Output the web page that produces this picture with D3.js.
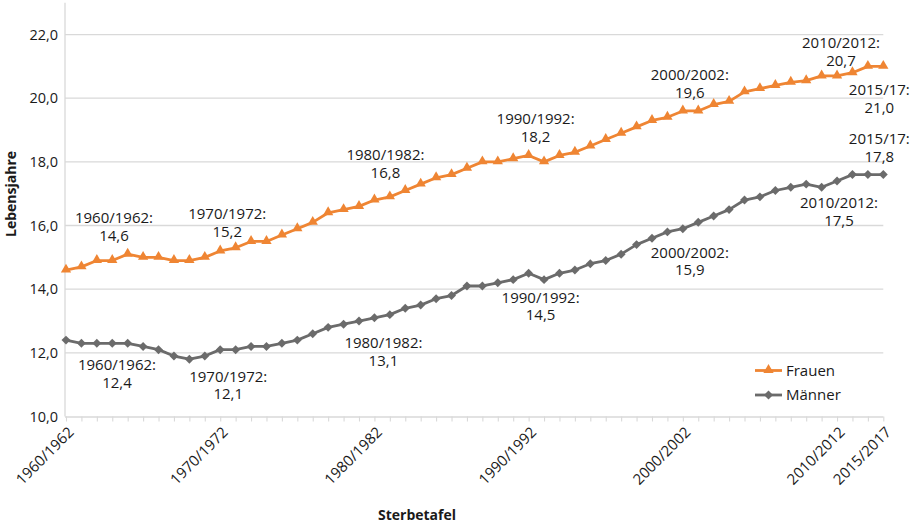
<!DOCTYPE html>
<html>
<head>
<meta charset="utf-8">
<script src="https://cdn.jsdelivr.net/npm/d3@7"></script>
<style>
  body { margin: 0; background: #fff; }
  svg { display: block; font-family: "Open Sans", "Noto Sans", sans-serif; }
</style>
</head>
<body>
<svg id="chart" width="916" height="528"></svg>
<script>
const categories = [
  "1960/1962","1961/1963","1962/1964","1963/1965","1964/1966","1965/1967","1966/1968","1967/1969","1968/1970","1969/1971",
  "1970/1972","1971/1973","1972/1974","1973/1975","1974/1976","1975/1977","1976/1978","1977/1979","1978/1980","1979/1981",
  "1980/1982","1981/1983","1982/1984","1983/1985","1984/1986","1985/1987","1986/1988","1987/1989","1988/1990","1989/1991",
  "1990/1992","1991/1993","1992/1994","1993/1995","1994/1996","1995/1997","1996/1998","1997/1999","1998/2000","1999/2001",
  "2000/2002","2001/2003","2002/2004","2003/2005","2004/2006","2005/2007","2006/2008","2007/2009","2008/2010","2009/2011",
  "2010/2012","2011/2013","2012/2014","2015/2017"
];
const frauen = [
  14.6,14.7,14.9,14.9,15.1,15.0,15.0,14.9,14.9,15.0,
  15.2,15.3,15.5,15.5,15.7,15.9,16.1,16.4,16.5,16.6,
  16.8,16.9,17.1,17.3,17.5,17.6,17.8,18.0,18.0,18.1,
  18.2,18.0,18.2,18.3,18.5,18.7,18.9,19.1,19.3,19.4,
  19.6,19.6,19.8,19.9,20.2,20.3,20.4,20.5,20.55,20.7,
  20.7,20.8,21.0,21.0
];
const maenner = [
  12.4,12.3,12.3,12.3,12.3,12.2,12.1,11.9,11.8,11.9,
  12.1,12.1,12.2,12.2,12.3,12.4,12.6,12.8,12.9,13.0,
  13.1,13.2,13.4,13.5,13.7,13.8,14.1,14.1,14.2,14.3,
  14.5,14.3,14.5,14.6,14.8,14.9,15.1,15.4,15.6,15.8,
  15.9,16.1,16.3,16.5,16.8,16.9,17.1,17.2,17.3,17.2,
  17.4,17.6,17.6,17.6
];
const xTickLabels = ["1960/1962","1970/1972","1980/1982","1990/1992","2000/2002","2010/2012","2015/2017"];
const yTicks = [10,12,14,16,18,20,22];
const seriesNames = ["Frauen","Männer"];

// annotations: [category, line1, line2]
const annotFrauen = [
  ["1960/1962","1960/1962:","14,6"],
  ["1970/1972","1970/1972:","15,2"],
  ["1980/1982","1980/1982:","16,8"],
  ["1990/1992","1990/1992:","18,2"],
  ["2000/2002","2000/2002:","19,6"],
  ["2010/2012","2010/2012:","20,7"],
  ["2015/2017","2015/17:","21,0"]
];
const annotMaenner = [
  ["1960/1962","1960/1962:","12,4"],
  ["1970/1972","1970/1972:","12,1"],
  ["1980/1982","1980/1982:","13,1"],
  ["1990/1992","1990/1992:","14,5"],
  ["2000/2002","2000/2002:","15,9"],
  ["2010/2012","2010/2012:","17,5"],
  ["2015/2017","2015/17:","17,8"]
];
// label offsets (layout, px) relative to data point: [dx, dy of first line center]
const offFrauen = [[48,-52],[7,-37],[11,-45],[7,-36.5],[7,-36],[4,-33],[-4,23.6]];
const offMaenner = [[51,25],[8,27],[9,25],[12,24],[7,24],[2,22],[-4,-35.6]];

const ORANGE = "#EF8533";
const GRAY = "#6B6B6B";
const GRID = "#D9D9D9";
const TEXT = "#1a1a1a";
const FS = 15;

const svg = d3.select("#chart");
const x = d3.scalePoint().domain(categories).range([66, 883.3]);
const y = d3.scaleLinear().domain([10, 23]).range([416.5, 2.7]);
const x0 = 65, x1 = 883.3;

// gridlines
svg.append("g").selectAll("line").data(yTicks.filter(d => d > 10)).join("line")
  .attr("x1", x0).attr("x2", x1)
  .attr("y1", d => y(d)).attr("y2", d => y(d))
  .attr("stroke", GRID).attr("stroke-width", 1.3);

// y axis line
svg.append("line").attr("x1", x0).attr("x2", x0).attr("y1", y(23)).attr("y2", y(10))
  .attr("stroke", GRID).attr("stroke-width", 1.3);

// y tick labels
svg.append("g").selectAll("text").data(yTicks).join("text")
  .attr("x", 58).attr("y", d => y(d)).attr("dy", "0.35em")
  .attr("text-anchor", "end").attr("font-size", 14.5).attr("fill", TEXT)
  .text(d => d3.format(".1f")(d).replace(".", ","));

// x axis
const xAxis = d3.axisBottom(x).tickSize(5).tickFormat("");
const gx = svg.append("g").attr("transform", `translate(0,${y(10)})`).call(xAxis);
gx.select(".domain").attr("stroke", GRID).attr("stroke-width", 1.3).attr("d", `M${x0},0.5H${x1}`);
gx.selectAll(".tick line").attr("stroke", GRID).attr("stroke-width", 1.1);

// x tick labels rotated
svg.append("g").selectAll("text").data(xTickLabels).join("text")
  .attr("transform", d => `translate(${x(d) + 5},${y(10) + 13}) rotate(-45)`)
  .attr("text-anchor", "end").attr("dy", "0.35em")
  .attr("font-size", FS).attr("fill", TEXT)
  .text(d => d);

// axis titles
svg.append("text").attr("transform", `translate(16,194) rotate(-90)`)
  .attr("text-anchor", "middle").attr("font-size", 14).attr("font-weight", "bold").attr("fill", TEXT)
  .text("Lebensjahre");
svg.append("text").attr("x", 417).attr("y", 520)
  .attr("text-anchor", "middle").attr("font-size", 14).attr("font-weight", "bold").attr("fill", TEXT)
  .text("Sterbetafel");

// lines
const line = d3.line().x(d => x(d[0])).y(d => y(d[1]));
const triangle = d3.symbol().type(d3.symbolTriangle).size(46);
const diamond = d3.symbol().type(d3.symbolSquare).size(40);

const fData = categories.map((c, i) => [c, frauen[i]]);
const mData = categories.map((c, i) => [c, maenner[i]]);

svg.append("path").datum(mData).attr("d", line)
  .attr("fill", "none").attr("stroke", GRAY).attr("stroke-width", 2.8).attr("stroke-linejoin", "round");
svg.append("g").selectAll("path").data(mData).join("path")
  .attr("d", diamond)
  .attr("transform", d => `translate(${x(d[0])},${y(d[1])}) rotate(45)`)
  .attr("fill", GRAY);

svg.append("path").datum(fData).attr("d", line)
  .attr("fill", "none").attr("stroke", ORANGE).attr("stroke-width", 2.8).attr("stroke-linejoin", "round");
svg.append("g").selectAll("path").data(fData).join("path")
  .attr("d", triangle)
  .attr("transform", d => `translate(${x(d[0])},${y(d[1]) - 0.5})`)
  .attr("fill", ORANGE);

// annotations (two separate lines)
function annotate(list, offs, values) {
  list.forEach((a, i) => {
    const idx = categories.indexOf(a[0]);
    const px = x(a[0]) + offs[i][0];
    const py = y(values[idx]) + offs[i][1];
    [a[1], a[2]].forEach((s, k) => {
      svg.append("text").attr("text-anchor", "middle").attr("font-size", FS).attr("fill", TEXT)
        .attr("x", px).attr("y", py + k * 17.5).attr("dy", "0.35em").text(s);
    });
  });
}
annotate(annotFrauen, offFrauen, frauen);
annotate(annotMaenner, offMaenner, maenner);

// legend
const legend = svg.append("g");
const legItems = [
  {name: seriesNames[0], color: ORANGE, sym: triangle, rot: 0, ly: 370.5},
  {name: seriesNames[1], color: GRAY, sym: diamond, rot: 45, ly: 395}
];
legItems.forEach(it => {
  legend.append("line").attr("x1", 755).attr("x2", 782).attr("y1", it.ly).attr("y2", it.ly)
    .attr("stroke", it.color).attr("stroke-width", 2.8);
  legend.append("path").attr("d", it.sym)
    .attr("transform", `translate(768.5,${it.ly - (it.rot ? 0 : 0.5)}) rotate(${it.rot})`)
    .attr("fill", it.color);
  legend.append("text").attr("x", 786).attr("y", it.ly).attr("dy", "0.35em")
    .attr("font-size", FS).attr("fill", TEXT).text(it.name);
});
</script>
</body>
</html>
